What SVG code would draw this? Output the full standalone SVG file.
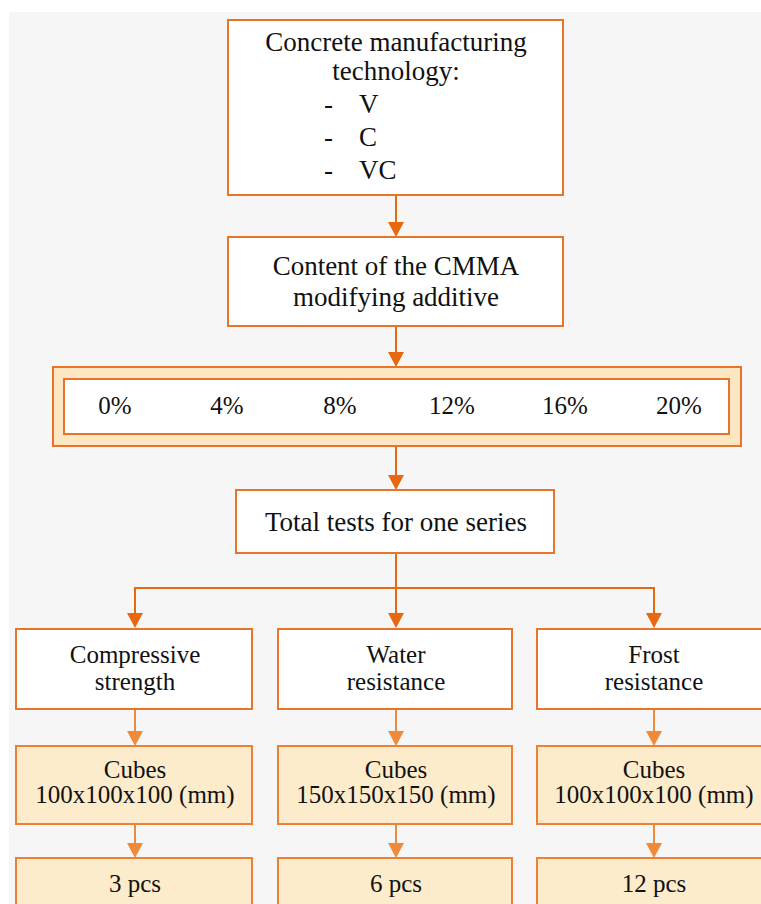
<svg xmlns="http://www.w3.org/2000/svg" width="761" height="904" viewBox="0 0 761 904">
<style>
text{font-family:'Liberation Serif',serif;fill:#111;text-anchor:middle}
.s{text-anchor:start}
.f26{font-size:27px}
.f25{font-size:25px}
.box{fill:#fff;stroke:#e8742a;stroke-width:2}
.ybox{fill:#fdeccb;stroke:#ee8035;stroke-width:2}
.outer{fill:#fde7c2;stroke:#e8742a;stroke-width:2}
.ln{stroke:#e8680f;stroke-width:2;fill:none}
.ln2{stroke:#ee8a3a;stroke-width:2;fill:none}
.ah{fill:#e8680f}
.ah2{fill:#ee8a3a}
</style>
<rect x="0" y="0" width="761" height="904" fill="#fff"/>
<rect x="9" y="12" width="752" height="892" fill="#f6f6f6"/>

<g id="connectors">
<line class="ln" x1="396" y1="195" x2="396" y2="222"/>
<polygon class="ah" points="388,222 404,222 396,237"/>
<line class="ln" x1="396" y1="326" x2="396" y2="352"/>
<polygon class="ah" points="388,352 404,352 396,367"/>
<line class="ln" x1="396" y1="446" x2="396" y2="475"/>
<polygon class="ah" points="388,475 404,475 396,490"/>
<polyline class="ln" points="396,553 396,588"/>
<polyline class="ln" points="135,613 135,588 654,588 654,613"/>
<line class="ln" x1="396" y1="588" x2="396" y2="613"/>
<polygon class="ah" points="127,613 143,613 135,628"/>
<polygon class="ah" points="388,613 404,613 396,628"/>
<polygon class="ah" points="646,613 662,613 654,628"/>
<line class="ln2" x1="135" y1="709" x2="135" y2="731"/>
<polygon class="ah2" points="127,731 143,731 135,746"/>
<line class="ln2" x1="396" y1="709" x2="396" y2="731"/>
<polygon class="ah2" points="388,731 404,731 396,746"/>
<line class="ln2" x1="654" y1="709" x2="654" y2="731"/>
<polygon class="ah2" points="646,731 662,731 654,746"/>
<line class="ln2" x1="135" y1="824" x2="135" y2="843"/>
<polygon class="ah2" points="127,843 143,843 135,858"/>
<line class="ln2" x1="396" y1="824" x2="396" y2="843"/>
<polygon class="ah2" points="388,843 404,843 396,858"/>
<line class="ln2" x1="654" y1="824" x2="654" y2="843"/>
<polygon class="ah2" points="646,843 662,843 654,858"/>
</g>

<g id="tech">
<rect class="box" x="228" y="20" width="335" height="175"/>
<text class="f26" x="396" y="51">Concrete manufacturing</text>
<text class="f26" x="396" y="80">technology:</text>
<text class="f26 s" x="324" y="113">-</text>
<text class="f26 s" x="359" y="113">V</text>
<text class="f26 s" x="324" y="146">-</text>
<text class="f26 s" x="359" y="146">C</text>
<text class="f26 s" x="324" y="179">-</text>
<text class="f26 s" x="359" y="179">VC</text>
</g>

<g id="content">
<rect class="box" x="228" y="237" width="335" height="89"/>
<text class="f26" x="396" y="275">Content of the CMMA</text>
<text class="f26" x="396" y="306">modifying additive</text>
</g>

<g id="percent">
<rect class="outer" x="53" y="367" width="688" height="79"/>
<rect class="box" x="64" y="379" width="665" height="55"/>
<text class="f25" x="115" y="414">0%</text>
<text class="f25" x="227" y="414">4%</text>
<text class="f25" x="340" y="414">8%</text>
<text class="f25" x="452" y="414">12%</text>
<text class="f25" x="565" y="414">16%</text>
<text class="f25" x="679" y="414">20%</text>
</g>

<g id="total">
<rect class="box" x="236" y="490" width="318" height="63"/>
<text class="f26" x="396" y="531">Total tests for one series</text>
</g>

<g id="compressive">
<rect class="box" x="16" y="629" width="236" height="80"/>
<text class="f25" x="135" y="663">Compressive</text>
<text class="f25" x="135" y="690">strength</text>
</g>
<g id="water">
<rect class="box" x="278" y="629" width="234" height="80"/>
<text class="f25" x="396" y="663">Water</text>
<text class="f25" x="396" y="690">resistance</text>
</g>
<g id="frost">
<rect class="box" x="537" y="629" width="240" height="80"/>
<text class="f25" x="654" y="663">Frost</text>
<text class="f25" x="654" y="690">resistance</text>
</g>

<g id="cubes1">
<rect class="ybox" x="16" y="746" width="236" height="78"/>
<text class="f25" x="135" y="778">Cubes</text>
<text class="f25" x="135" y="803">100x100x100 (mm)</text>
</g>
<g id="cubes2">
<rect class="ybox" x="278" y="746" width="234" height="78"/>
<text class="f25" x="396" y="778">Cubes</text>
<text class="f25" x="396" y="803">150x150x150 (mm)</text>
</g>
<g id="cubes3">
<rect class="ybox" x="537" y="746" width="240" height="78"/>
<text class="f25" x="654" y="778">Cubes</text>
<text class="f25" x="654" y="803">100x100x100 (mm)</text>
</g>

<g id="pcs1">
<rect class="ybox" x="16" y="858" width="236" height="60"/>
<text class="f25" x="135" y="892">3 pcs</text>
</g>
<g id="pcs2">
<rect class="ybox" x="278" y="858" width="234" height="60"/>
<text class="f25" x="396" y="892">6 pcs</text>
</g>
<g id="pcs3">
<rect class="ybox" x="537" y="858" width="240" height="60"/>
<text class="f25" x="654" y="892">12 pcs</text>
</g>
</svg>
